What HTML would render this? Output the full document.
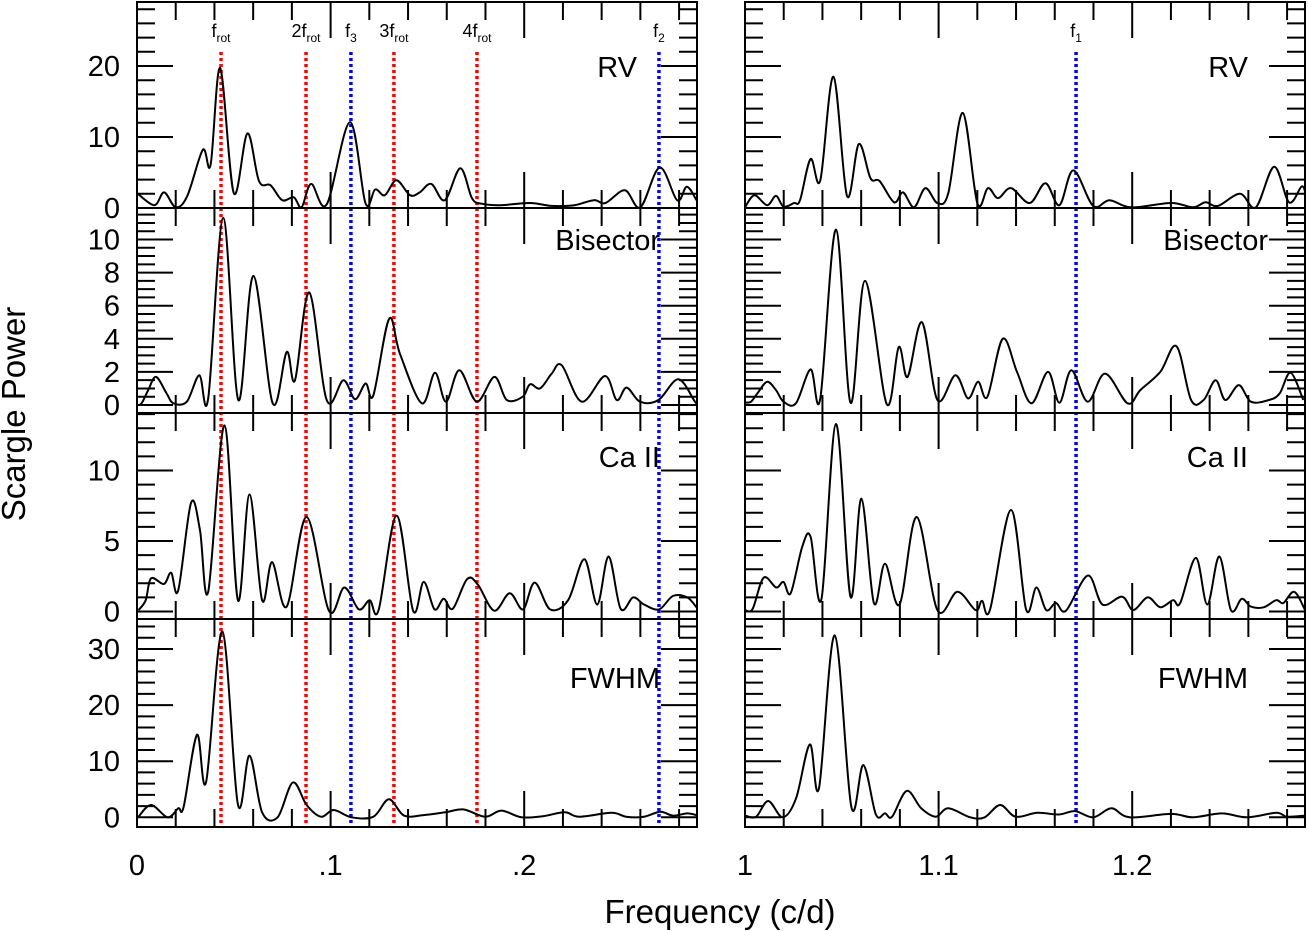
<!DOCTYPE html>
<html><head><meta charset="utf-8"><style>
html,body{margin:0;padding:0;background:#fff;}
svg{display:block;font-family:"Liberation Sans",Arial,sans-serif;}
</style></head><body>
<svg id="chart" width="1308" height="931" viewBox="0 0 1308 931" xmlns="http://www.w3.org/2000/svg"></svg>
<script>
// ---- data ----
const rvLeftFreq=[0,.009,.014,.020,.026,.034,.038,.043,.050,.057,.063,.069,.075,.081,.085,.090,.098,.110,.118,.123,.128,.134,.141,.146,.152,.159,.167,.173,.178,.188,.203,.214,.226,.236,.242,.252,.260,.270,.279,.284,.289];
const rvLeftPower=[2.1,0.4,2.2,0.1,1.7,8.2,6.1,19.7,2.1,10.5,3.8,3.2,1.1,1.5,0.1,3.4,0.5,12.1,0.7,2.6,1.8,3.9,1.8,2.2,3.4,1.1,5.6,1.4,0.6,0.4,0.7,0.3,0.4,1.1,0.7,2.5,0.1,5.7,1.1,3.0,1.1];
const rvRightFreq=[1.0002,1.0049,1.0114,1.016,1.0199,1.0253,1.0284,1.0339,1.0389,1.0457,1.0527,1.0588,1.0648,1.0695,1.077,1.0816,1.0873,1.0932,1.0994,1.105,1.1125,1.12,1.1255,1.1307,1.1374,1.1471,1.1552,1.1624,1.1696,1.1798,1.1883,1.1994,1.2201,1.2314,1.2379,1.2443,1.2557,1.2639,1.2733,1.281,1.2874,1.2893];
const rvRightPower=[0.2,1.8,0.4,1.7,0.2,0.7,1.1,6.9,3.9,18.5,1.7,9.0,4.2,3.8,0.8,2.2,0.1,2.8,0.7,2.1,13.4,0.7,2.8,1.4,2.8,0.7,3.5,0.4,5.3,0.3,1.1,0.1,0.7,0.1,0.8,0.3,2.0,0.1,5.8,0.8,3.0,2.3];
const bisLeftFreq=[0,.0024,.0058,.0098,.0153,.0188,.0257,.0322,.0368,.0446,.0523,.0601,.0701,.0773,.0816,.089,.098,.1066,.1126,.1181,.1221,.1302,.1358,.1471,.1539,.1596,.1665,.1755,.1846,.191,.1992,.203,.2082,.2142,.2194,.2297,.2417,.2478,.2529,.2598,.2693,.2796,.2882,.2893];
const bisLeftPower=[0,0.1,0.9,1.7,0.7,0.1,0.2,1.8,0.4,11.3,0.3,7.8,0.1,3.2,1.5,6.8,0.3,1.5,0.35,1.3,0.6,5.2,3.1,0.1,1.95,0.2,2.1,0.2,1.7,0.3,0.5,1.25,1.0,1.9,2.4,0.2,1.75,0.3,1.05,0.2,0.3,1.55,0.2,0.1];
const bisRightFreq=[1.0002,1.0031,1.0064,1.0114,1.016,1.0199,1.0263,1.0339,1.0389,1.047,1.0545,1.062,1.0732,1.0794,1.084,1.0914,1.0994,1.1087,1.1152,1.1204,1.1252,1.1331,1.1405,1.148,1.1565,1.1624,1.1686,1.177,1.186,1.1976,1.2042,1.2145,1.2229,1.2304,1.2369,1.2431,1.2481,1.2551,1.2613,1.2706,1.2762,1.2818,1.2884];
const bisRightPower=[0.14,0.2,0.7,1.4,0.9,0.2,0.1,2.15,0.4,10.6,0.14,7.5,0.06,3.5,1.7,5.0,0.3,1.8,0.4,1.4,0.5,4.0,2.0,0.1,2.0,0.14,2.1,0.2,1.9,0.1,0.9,2.0,3.55,0.3,0.3,1.5,0.3,1.2,0.2,0.3,0.7,1.95,0.3];
const caLeftFreq=[.0008,.0045,.0073,.0139,.0176,.0213,.0279,.0325,.0368,.0452,.0521,.0581,.0646,.0698,.0773,.0876,.0991,.1071,.1146,.1202,.1248,.1341,.1426,.1481,.1537,.1584,.1631,.1705,.1761,.1845,.1925,.1994,.2054,.2134,.2227,.2311,.2377,.2436,.2498,.2563,.2619,.2697,.2768,.2842,.289];
const caLeftPower=[0.1,0.8,2.35,1.95,2.75,1.5,7.7,5.8,1.4,13.2,0.8,8.3,0.8,3.5,0.35,6.7,0.06,1.7,0.15,0.8,0.1,6.8,0.06,2.1,0.15,0.9,0.2,2.3,1.9,0.06,1.3,0.15,2.05,0.15,0.8,3.7,0.5,3.9,0.2,1.0,0.5,0.15,1.1,1.0,0.3];
const caRightFreq=[1.0002,1.004,1.0096,1.0161,1.0199,1.0236,1.0296,1.0339,1.0395,1.047,1.0545,1.0601,1.0666,1.0723,1.0798,1.0887,1.0994,1.1097,1.1191,1.1224,1.1266,1.1374,1.1452,1.1505,1.1556,1.1606,1.1658,1.1771,1.1846,1.1948,1.2005,1.208,1.2145,1.2211,1.2248,1.2329,1.2388,1.245,1.251,1.2566,1.2613,1.2679,1.2744,1.2781,1.2837,1.2893];
const caRightPower=[0.1,0.2,2.4,1.7,2.1,1.3,4.6,5.3,0.9,13.3,1.05,8.0,0.6,3.4,0.5,6.7,0.1,1.4,0.1,0.75,0.15,7.2,0.15,1.7,0.1,0.6,0.06,2.55,0.5,1.05,0.1,1.0,0.3,0.8,0.6,3.8,0.5,3.9,0.1,0.9,0.35,0.3,0.8,0.6,1.4,0.1];
const fwhmLeftFreq=[.0008,.0073,.0158,.0213,.0241,.031,.0357,.0441,.0521,.0581,.0646,.0726,.0805,.0876,.095,.1016,.1108,.1221,.1301,.1379,.1481,.1593,.1686,.1799,.1882,.1985,.2097,.2209,.2283,.2451,.2526,.2619,.2703,.2768,.2842,.2889];
const fwhmLeftPower=[0.1,2.2,0,1.6,1.9,14.7,6.3,33.1,2.3,11.0,0.9,0,6.2,2.2,0.1,1.3,0,0.1,3.2,0.3,0.4,0.9,1.4,0.1,1.2,0,0.2,0.9,0.1,0.8,0.1,0.1,1.0,0.3,0.7,0.4];
const fwhmRightFreq=[1.0002,1.0058,1.012,1.0195,1.0264,1.0335,1.0382,1.0464,1.0549,1.0611,1.0676,1.0723,1.076,1.0835,1.091,1.0985,1.105,1.1163,1.1238,1.1318,1.1397,1.1509,1.1621,1.1705,1.1799,1.1893,1.1986,1.2201,1.2314,1.2463,1.2594,1.2744,1.28,1.2893];
const fwhmRightPower=[0.3,0.1,2.9,0,3.4,13.0,5.2,32.4,1.9,9.3,0.5,0.7,0.1,4.7,1.6,0.1,1.6,0,0,2.2,0.1,0.8,0.5,1.1,0,1.6,0,0.6,0,0.7,0,0.8,0.1,0.3];
const leftMarkerFreqs=[0.0434,0.0873,0.1105,0.1327,0.1756,0.2696];
const leftMarkerNames=["f","2f","f","3f","4f","f"];
const leftMarkerSubs=["rot","rot","3","rot","rot","2"];
const leftMarkerColors=["red","red","blue","red","red","blue"];
const rightMarkerFreqs=[1.171];
const rightMarkerNames=["f"];
const rightMarkerSubs=["1"];
const rightMarkerColors=["blue"];
const panelNames=["RV","Bisector","Ca II","FWHM"];
const yTickLabels=[[0,10,20],[0,2,4,6,8,10],[0,5,10],[0,10,20,30]];
const leftXTickLabels=["0",".1",".2"];
const rightXTickLabels=["1","1.1","1.2"];

// ---- layout ----
const NS="http://www.w3.org/2000/svg";
const svg=document.getElementById('chart');
const PXU=1936;
const cols=[{x0:137,x1:697,f0:0},{x0:745,x1:1305,f0:1}];
const rows=[
 {top:2,bot:208,zero:208,k:7.1,major:10,minor:2},
 {top:208,bot:413,zero:405,k:16.55,major:2,minor:0.5},
 {top:413,bot:619,zero:611.5,k:14.1,major:5,minor:1},
 {top:619,bot:827,zero:817.3,k:5.61,major:10,minor:2}];
function xS(c,f){return cols[c].x0+(f-cols[c].f0)*PXU;}
function yS(r,p){return rows[r].zero-p*rows[r].k;}
function mk(tag,attrs,parent){const e=document.createElementNS(NS,tag);for(const k in attrs)e.setAttribute(k,attrs[k]);(parent||svg).appendChild(e);return e;}
function txt(s,attrs,parent){const e=mk('text',attrs,parent);e.textContent=s;return e;}

const defs=mk('defs',{});
for(let c=0;c<2;c++)for(let r=0;r<4;r++){
  const cp=mk('clipPath',{id:'clip'+c+r},defs);
  mk('rect',{x:cols[c].x0,y:rows[r].top,width:cols[c].x1-cols[c].x0,height:rows[r].bot-rows[r].top},cp);
}

function smoothPath(pts){
  let d='M'+pts[0][0].toFixed(1)+','+pts[0][1].toFixed(1);
  for(let i=0;i<pts.length-1;i++){
    const p0=pts[Math.max(0,i-1)],p1=pts[i],p2=pts[i+1],p3=pts[Math.min(pts.length-1,i+2)];
    const c1x=p1[0]+(p2[0]-p0[0])/6,c1y=p1[1]+(p2[1]-p0[1])/6;
    const c2x=p2[0]-(p3[0]-p1[0])/6,c2y=p2[1]-(p3[1]-p1[1])/6;
    d+=' C'+c1x.toFixed(1)+','+c1y.toFixed(1)+' '+c2x.toFixed(1)+','+c2y.toFixed(1)+' '+p2[0].toFixed(1)+','+p2[1].toFixed(1);
  }
  return d;
}

const series=[
 [rvLeftFreq,rvLeftPower,rvRightFreq,rvRightPower],
 [bisLeftFreq,bisLeftPower,bisRightFreq,bisRightPower],
 [caLeftFreq,caLeftPower,caRightFreq,caRightPower],
 [fwhmLeftFreq,fwhmLeftPower,fwhmRightFreq,fwhmRightPower]];
const seriesNames=["rv","bisector","ca-ii","fwhm"];

function drawMarkers(c,freqs,names,subs,colors){
  for(let i=0;i<freqs.length;i++){
    const x=xS(c,freqs[i]);
    const ln=mk('line',{x1:x,y1:52,x2:x,y2:823,stroke:colors[i]==='red'?'#ff0000':'#0000ff','stroke-width':3.5,'stroke-dasharray':'3 3'});
    
    
    const t=mk('text',{x:x,y:37,'text-anchor':'middle','font-size':18});
    
    
    const a=document.createElementNS(NS,'tspan');a.textContent=names[i];t.appendChild(a);
    const b=document.createElementNS(NS,'tspan');b.setAttribute('font-size','12');b.setAttribute('dy','5');b.textContent=subs[i];t.appendChild(b);
  }
}
drawMarkers(0,leftMarkerFreqs,leftMarkerNames,leftMarkerSubs,leftMarkerColors);
drawMarkers(1,rightMarkerFreqs,rightMarkerNames,rightMarkerSubs,rightMarkerColors);

for(let r=0;r<4;r++){
  for(let c=0;c<2;c++){
    const F=series[r][c*2],P=series[r][c*2+1];
    const pts=F.map((f,i)=>[xS(c,f),yS(r,P[i])]);
    const path=mk('path',{d:smoothPath(pts),fill:'none',stroke:'#000','stroke-width':2,'clip-path':'url(#clip'+c+r+')'});
    
    
  }
}

// axes, ticks
const axG=mk('g',{stroke:'#000','stroke-width':2,fill:'none'});


for(let c=0;c<2;c++){
  const X0=cols[c].x0,X1=cols[c].x1;
  mk('rect',{x:X0,y:2,width:X1-X0,height:825},axG);
  for(let r=0;r<4;r++){
    const R=rows[r];
    mk('line',{x1:X0,y1:R.bot,x2:X1,y2:R.bot},axG);
    const maxP=(R.zero-R.top)/R.k, minP=(R.zero-R.bot)/R.k;
    for(let v=Math.ceil(minP/R.minor)*R.minor; v<=maxP+1e-6; v+=R.minor){
      const y=yS(r,v);
      const isMaj=Math.abs(v/R.major-Math.round(v/R.major))<1e-6;
      const L=isMaj?36:18;
      mk('line',{x1:X0,y1:y,x2:X0+L,y2:y},axG);
      mk('line',{x1:X1,y1:y,x2:X1-L,y2:y},axG);
    }
    for(let i=0;i<=14;i++){
      const f=cols[c].f0+i*0.02; const x=xS(c,f);
      const L=(i%5===0)?36:18;
      mk('line',{x1:x,y1:R.top,x2:x,y2:R.top+L},axG);
      mk('line',{x1:x,y1:R.bot,x2:x,y2:R.bot-L},axG);
    }
  }
}

for(let r=0;r<4;r++){
  for(const v of yTickLabels[r]){
    const t=txt(String(v),{x:120,y:yS(r,v)+10,'text-anchor':'end','font-size':29});
    
    
  }
}
const labelPos=[[637,77,1248,77],[660,250,1268,250],[660,467,1248,467],[660,688,1248,688]];
for(let r=0;r<4;r++){
  for(let c=0;c<2;c++){
    const t=txt(panelNames[r],{x:labelPos[r][c*2],y:labelPos[r][c*2+1],'text-anchor':'end','font-size':29});
    
    
  }
}
for(let i=0;i<3;i++){
  const t1=txt(leftXTickLabels[i],{x:xS(0,i*0.1),y:875,'text-anchor':'middle','font-size':29});
  
  
  const t2=txt(rightXTickLabels[i],{x:xS(1,1+i*0.1),y:875,'text-anchor':'middle','font-size':29});
  
  
}
const xt=txt('Frequency (c/d)',{x:720,y:923,'text-anchor':'middle','font-size':33});


const yt=txt('Scargle Power',{x:0,y:0,'text-anchor':'middle','font-size':33,transform:'translate(25,414) rotate(-90)'});


</script>
</body></html>
